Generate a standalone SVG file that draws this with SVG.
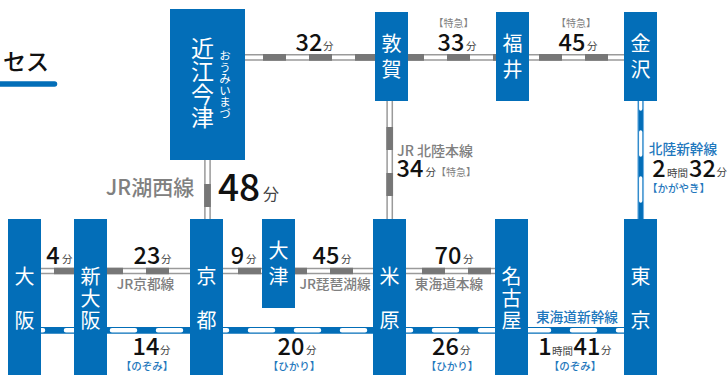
<svg xmlns="http://www.w3.org/2000/svg" width="727" height="375" viewBox="0 0 727 375">
<style>
text{font-family:"Noto Sans CJK JP","Noto Sans",sans-serif}
.n{fill:#036eb8}
.st{fill:#fff;font-size:20px;text-anchor:middle}
.t{fill:#111;font-size:23.500px;font-weight:500;text-anchor:middle}
.u{fill:#444;font-size:10.500px}
.h{fill:#444;font-size:10.500px}
.g{fill:#808080;font-size:13.700px;font-weight:500;text-anchor:middle}
.b{fill:#1f78bd;font-size:13.700px;font-weight:500;text-anchor:middle}
.tg{fill:#808080;font-size:10px;text-anchor:middle}
.tb{fill:#1f78bd;font-size:10.500px;font-weight:500;text-anchor:middle}
.gb{stroke:#9a9a9a;stroke-width:6.700;fill:none}
.gd{stroke:#777;stroke-width:6.700;stroke-dasharray:23 23;fill:none}
.gw{stroke:#fff;stroke-width:3.700;fill:none}
.bb{stroke:#036eb8;stroke-width:6.700;fill:none}
.bw{stroke:#fff;stroke-width:4.500;stroke-linecap:round;stroke-dasharray:23 23;fill:none}
.bv{stroke:#6fb0e2;stroke-width:6.700;fill:none}
.bd{stroke:#036eb8;stroke-width:4.500;fill:none}
.bx{stroke:#fff;stroke-width:3.300;stroke-linecap:round;stroke-dasharray:23 23;fill:none}
</style>
<g id="heading"><text x="3" y="70" font-size="23" font-weight="500" fill="#111">セス</text><path d="M0 84H54.500" stroke="#036eb8" stroke-width="5.500" stroke-linecap="round"/></g>
<g id="connectors">
<path class="gb" d="M245 57.300H624M207.500 160V219M389.700 101V219M41 271H495"/>
<path class="gw" d="M245 57.300H624M207.500 160V219M389.700 101V219M41 271H495"/>
<path class="gd" d="M263 57.300H624"/>
<path class="gd" d="M207.500 184V219"/>
<path class="gd" d="M389.700 127V219"/>
<path class="gd" d="M54 271H495"/>
<path class="bb" d="M41 330.300H624"/>
<path class="bw" d="M20 330.300H624"/>
<path class="bv" d="M640.700 101V219"/>
<path class="bd" d="M640.700 101V219"/>
<path class="bx" d="M640.700 86V219"/>
</g>
<g id="oumi-imazu"><rect class="n" x="170" y="9" width="75" height="151"/><text fill="#fff" font-size="23" writing-mode="vertical-rl" x="202.500" y="37">近江今津</text><text fill="#fff" font-size="11.500" writing-mode="vertical-rl" x="225" y="50">おうみいまづ</text></g>
<g id="tsuruga"><rect class="n" x="375" y="12" width="33" height="89"/><text class="st" x="391.500" y="50.600">敦</text><text class="st" x="391.500" y="76.600">賀</text></g>
<g id="fukui"><rect class="n" x="496" y="12" width="33" height="89"/><text class="st" x="512.500" y="50.600">福</text><text class="st" x="512.500" y="76.600">井</text></g>
<g id="kanazawa"><rect class="n" x="624" y="12" width="33" height="89"/><text class="st" x="640.500" y="50.600">金</text><text class="st" x="640.500" y="76.600">沢</text></g>
<g id="osaka"><rect class="n" x="8" y="219" width="33" height="156"/><text class="st" x="24.500" y="283.500">大</text><text class="st" x="24.500" y="327.500">阪</text></g>
<g id="shin-osaka"><rect class="n" x="74" y="219" width="33" height="156"/><text class="st" x="90.500" y="283.500">新</text><text class="st" x="90.500" y="305.500">大</text><text class="st" x="90.500" y="327.500">阪</text></g>
<g id="kyoto"><rect class="n" x="190" y="219" width="33" height="156"/><text class="st" x="206.500" y="283.500">京</text><text class="st" x="206.500" y="327.500">都</text></g>
<g id="otsu"><rect class="n" x="262" y="219" width="33" height="89"/><text class="st" x="278.500" y="257.500">大</text><text class="st" x="278.500" y="283.500">津</text></g>
<g id="maibara"><rect class="n" x="373" y="219" width="33" height="156"/><text class="st" x="389.500" y="283.500">米</text><text class="st" x="389.500" y="327.500">原</text></g>
<g id="nagoya"><rect class="n" x="495" y="219" width="33" height="156"/><text class="st" x="511.500" y="283.500">名</text><text class="st" x="511.500" y="305.500">古</text><text class="st" x="511.500" y="327.500">屋</text></g>
<g id="tokyo"><rect class="n" x="624" y="219" width="33" height="156"/><text class="st" x="640.500" y="283.500">東</text><text class="st" x="640.500" y="327.500">京</text></g>
<g id="labels">
<text class="t" x="309" y="51">32</text><text class="u" x="323" y="49.500">分</text>
<text class="tg" x="453.500" y="26.500">【特急】</text><text class="t" x="451" y="51">33</text><text class="u" x="466" y="49.500">分</text>
<text class="tg" x="576" y="26.500">【特急】</text><text class="t" x="572" y="51">45</text><text class="u" x="587" y="49.500">分</text>
<text class="g" x="150" y="194.500" style="font-size:21px">JR湖西線</text>
<text class="t" x="239" y="201" style="font-size:37px">48</text><text class="u" x="263" y="199.500" style="font-size:16px">分</text>
<text class="g" x="397" y="155.500" style="font-size:14px;text-anchor:start">JR 北陸本線</text><text class="t" x="410" y="177">34</text><text class="u" x="425.500" y="175.500">分</text><text class="tg" x="456" y="175.500">【特急】</text>
<text class="b" x="683" y="153.500">北陸新幹線</text>
<text class="t" x="659" y="177">2</text><text class="h" x="667" y="176.500">時間</text><text class="t" x="702.500" y="177">32</text><text class="u" x="716.500" y="176">分</text>
<text class="tb" x="678.500" y="191.500">【かがやき】</text>
<text class="t" x="53" y="264">4</text><text class="u" x="62" y="263">分</text>
<text class="t" x="147" y="264">23</text><text class="u" x="161" y="263">分</text>
<text class="g" x="145.500" y="289">JR京都線</text>
<text class="t" x="237.500" y="264">9</text><text class="u" x="246" y="263">分</text>
<text class="t" x="326" y="264">45</text><text class="u" x="341" y="263">分</text>
<text class="g" x="335" y="289">JR琵琶湖線</text>
<text class="t" x="448" y="264">70</text><text class="u" x="463" y="263">分</text>
<text class="g" x="449" y="289">東海道本線</text>
<text class="b" x="577" y="322">東海道新幹線</text>
<text class="t" x="146" y="355">14</text><text class="u" x="160" y="354">分</text><text class="tb" x="147" y="369.500">【のぞみ】</text>
<text class="t" x="291" y="355">20</text><text class="u" x="306" y="354">分</text><text class="tb" x="294" y="369.500">【ひかり】</text>
<text class="t" x="445.500" y="355">26</text><text class="u" x="460" y="354">分</text><text class="tb" x="452" y="369.500">【ひかり】</text>
<text class="t" x="545" y="355">1</text><text class="h" x="552" y="354.500">時間</text><text class="t" x="587" y="355">41</text><text class="u" x="601" y="354">分</text><text class="tb" x="575" y="369.500">【のぞみ】</text>
</g>
</svg>
